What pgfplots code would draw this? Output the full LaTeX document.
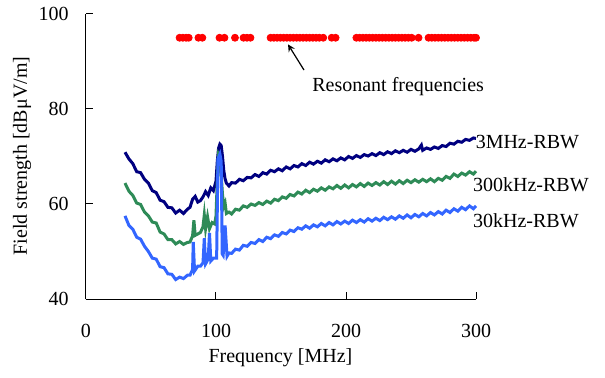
\documentclass[border=0pt]{standalone}
\usepackage{fontspec}
\setmainfont{Liberation Serif}
\usepackage{pgfplots}
\pgfplotsset{compat=1.18}
\definecolor{navyc}{RGB}{0,0,128}
\definecolor{greenc}{RGB}{46,139,87}
\definecolor{bluec}{RGB}{51,102,255}
\begin{document}
\fontsize{10bp}{12bp}\selectfont
\begin{tikzpicture}
\path[use as bounding box] (-43bp,-39.5bp) rectangle (259.5bp,149.5bp);
\begin{axis}[
  at={(0,0)}, anchor=south west,
  scale only axis, width=195bp, height=142.5bp,
  xmin=0, xmax=300, ymin=40, ymax=100,
  xtick={0,100,200,300}, ytick={40,60,80,100},
  xticklabels={0,100,200,300}, yticklabels={40,60,80,100},
  axis x line=bottom, axis y line=left,
  axis line style={-, black, line width=0.5bp},
  tick style={black, line width=0.5bp},
  major tick length=3.5bp, tick align=inside,
  ticklabel style={font=\rmfamily\fontsize{10bp}{12bp}\selectfont},
  xticklabel style={inner sep=0pt, anchor=north, yshift=-12.5bp},
  yticklabel style={inner sep=0pt, anchor=east, xshift=-8.5bp},
  clip=false,
]
% 3MHz-RBW
\addplot[navyc, line width=1.5bp] coordinates {
(30,70.9)(33,69.5)(36,68.5)(39,66.8)(42,66.6)(45,65.2)(48,64.4)(51,62.8)(54,62.4)(57,60.8)
(60,60.5)(63,59.3)(66,59.2)(69,58.1)(72,58.7)(75,58.0)(78,58.9)(80,59.3)(82,61.0)(84,61.6)
(86,60.4)(88,60.7)(90,61.5)(92,62.6)(94,61.8)(96,63.4)(98,62.8)(100,64.8)(101,69.0)(102,71.8)
(103,72.6)(104,72.3)(105,70.0)(106,67.0)(107,65.3)(108,64.4)(110,63.8)(112,64.5)(115,64.4)(118,65.2)
(121,64.9)(124,65.6)(127,65.5)(130,66.2)(133,65.8)(136,66.6)(139,66.3)(142,67.1)(145,66.8)(148,67.4)
(151,67.0)(154,67.8)(157,67.4)(160,68.1)(163,67.8)(166,68.5)(169,68.1)(172,68.8)(175,68.4)(178,69.0)
(181,68.6)(184,69.3)(187,68.9)(190,69.5)(193,69.1)(196,69.7)(199,69.3)(202,70.0)(205,69.6)(208,70.2)
(211,69.8)(214,70.4)(217,70.1)(220,70.6)(223,70.2)(226,70.8)(229,70.4)(232,71.0)(235,70.6)(238,71.2)
(241,70.8)(244,71.3)(247,70.9)(250,71.5)(253,71.1)(256,71.6)(258,72.4)(259,71.3)(262,71.8)(265,71.5)
(268,72.0)(271,71.7)(274,72.3)(277,72.1)(280,72.8)(283,72.6)(286,73.2)(289,73.0)(292,73.6)(295,73.4)
(298,73.9)(300,73.8)
};
% 300kHz-RBW
\addplot[greenc, line width=1.5bp] coordinates {
(30,64.4)(33,62.7)(36,61.8)(39,60.2)(42,59.9)(45,58.3)(48,57.5)(51,56.2)(54,56.0)(57,54.1)
(60,53.7)(63,52.5)(66,52.5)(69,51.6)(72,52.1)(75,51.5)(78,51.9)(80,52.0)(82,53.3)(83,56.6)
(84,53.4)(86,53.7)(88,54.0)(90,55.2)(91,57.7)(92,54.8)(93.5,57.3)(95,54.8)(97,56.1)(99,55.8)
(100,57.5)(101,65.0)(102,70.5)(103,70.0)(104,66.0)(105,62.0)(106,59.5)(107,60.2)(108,58.0)(110,58.3)
(112,57.9)(115,58.9)(118,58.7)(121,59.6)(124,59.3)(127,60.0)(130,59.7)(133,60.3)(136,59.9)(139,60.6)
(142,60.2)(145,61.0)(148,60.7)(151,61.5)(154,61.2)(157,62.0)(160,61.7)(163,62.5)(166,62.1)(169,62.9)
(172,62.4)(175,63.1)(178,62.7)(181,63.4)(184,62.9)(187,63.6)(190,63.2)(193,63.9)(196,63.3)(199,64.0)
(202,63.4)(205,64.1)(208,63.6)(211,64.3)(214,63.7)(217,64.4)(220,63.9)(223,64.5)(226,64.0)(229,64.7)
(232,64.1)(235,64.8)(238,64.2)(241,64.9)(244,64.3)(247,65.0)(250,64.5)(253,65.1)(256,64.6)(259,65.2)
(262,64.7)(265,65.3)(268,64.7)(271,65.4)(274,65.0)(277,65.8)(280,65.4)(283,66.3)(286,65.8)(289,66.5)
(292,66.1)(295,66.8)(298,66.3)(300,66.9)
};
% 30kHz-RBW
\addplot[bluec, line width=1.5bp] coordinates {
(30,57.5)(33,55.5)(36,54.7)(39,53.0)(42,52.6)(45,51.1)(48,50.0)(51,48.6)(54,48.4)(57,46.8)
(60,46.6)(63,45.3)(66,45.2)(69,44.1)(72,44.6)(75,44.3)(78,45.0)(80,45.0)(82,46.2)(82.5,52.0)
(83.5,45.9)(86,46.9)(88,46.9)(90,47.6)(91,52.8)(92,47.4)(94,48.4)(95,53.9)(96,48.0)(98,48.6)
(100.5,48.6)(101.5,69.5)(103,70.5)(104,69.0)(104.8,49.5)(105.5,49.2)(107,55.5)(108.5,49.0)(110,49.7)(112,49.6)
(115,50.5)(118,50.3)(121,51.3)(124,51.1)(127,51.9)(130,51.7)(133,52.5)(136,52.1)(139,53.0)(142,52.7)
(145,53.5)(148,53.2)(151,54.0)(154,53.7)(157,54.5)(160,54.2)(163,55.0)(166,54.7)(169,55.4)(172,54.9)
(175,55.6)(178,55.2)(181,55.9)(184,55.4)(187,56.1)(190,55.6)(193,56.3)(196,55.8)(199,56.4)(202,55.9)
(205,56.6)(208,56.1)(211,56.7)(214,56.2)(217,56.9)(220,56.4)(223,57.0)(226,56.5)(229,57.2)(232,56.7)
(235,57.3)(238,56.8)(241,57.5)(244,57.0)(247,57.7)(250,57.1)(253,57.8)(256,57.3)(259,58.0)(262,57.5)
(265,58.2)(268,57.7)(271,58.4)(274,57.9)(277,58.7)(280,58.2)(283,59.0)(286,58.5)(289,59.3)(292,58.8)
(295,59.6)(298,59.0)(300,59.6)
};
% resonant frequencies
\addplot[only marks, mark=*, mark size=1.75bp, mark options={draw=red, fill=red}] coordinates {
(72,95)(74.5,95)(77,95)(79,95)
(86.5,95)(89.5,95)
(102.7,95)(106.5,95)
(114.6,95)
(121.2,95)(123.8,95)(126.5,95)
(142,95)(144.5,95)(147,95)(149.5,95)(152,95)(154.5,95)(157,95)(159.5,95)(162,95)(164.5,95)(167,95)(169.5,95)(172,95)(174.5,95)(177,95)(179.5,95)(182.5,95)
(189,95)(192,95)
(208,95)(210.5,95)(213,95)(215.5,95)(218,95)(220.5,95)(223,95)(225.5,95)(228,95)(230.5,95)(233,95)(235.5,95)(238,95)(240.5,95)(243,95)(245.5,95)(248,95)(250.5,95)(255.8,95)
(263.5,95)(266,95)(268.5,95)(271,95)(273.5,95)(276,95)(278.5,95)(281,95)(283.5,95)(286,95)(288.5,95)(291,95)(293.5,95)(296,95)(298.5,95)(300,95)
};
\draw[-stealth, line width=0.6bp] (axis cs:167.7,88.2) -- (axis cs:155.4,93.6);
\node[anchor=west, inner sep=0pt] at (axis cs:173.8,84.8) {Resonant frequencies};
\node[anchor=west, inner sep=0pt] at (axis cs:299.5,73.1) {3MHz-RBW};
\node[anchor=west, inner sep=0pt] at (axis cs:297.5,64.0) {300kHz-RBW};
\node[anchor=west, inner sep=0pt] at (axis cs:297.5,56.4) {30kHz-RBW};
\node[anchor=center, inner sep=0pt] at (axis cs:149.6,27.6) {Frequency [MHz]};
\node[anchor=center, inner sep=0pt, rotate=90] at (axis cs:-49.2,70.1) {Field strength [dBμV/m]};
\end{axis}
\end{tikzpicture}
\end{document}
